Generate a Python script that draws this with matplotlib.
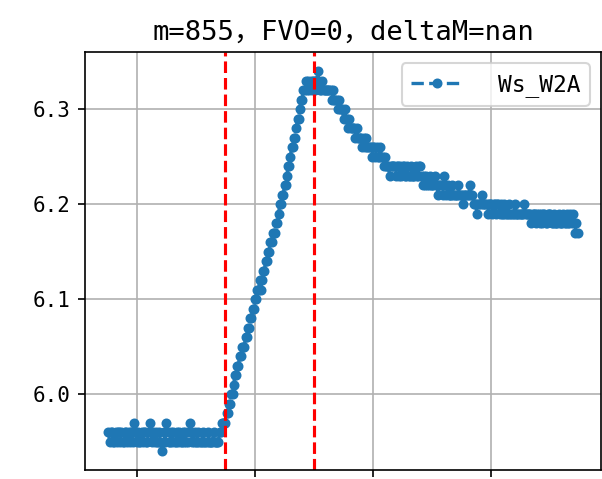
import matplotlib
matplotlib.use("Agg")
import matplotlib.pyplot as plt
import numpy as np

plt.rcParams['font.family'] = ['DejaVu Sans Mono', 'Noto Sans CJK SC']
plt.rcParams['axes.unicode_minus'] = False

title = 'm=855，FVO=0，deltaM=nan'
series_label = 'Ws_W2A'
x_start = 76
event_lines = [175, 250]

flat_values = [
    5.96, 5.95, 5.96, 5.96, 5.95, 5.95, 5.96, 5.95, 5.96, 5.96, 5.95, 5.96, 5.95, 5.95, 5.96, 5.96,
    5.95, 5.96, 5.95, 5.96, 5.96, 5.95, 5.97,
    5.96, 5.95, 5.96, 5.95, 5.95, 5.96, 5.95, 5.96, 5.96, 5.95, 5.95, 5.96, 5.97,
    5.96, 5.95, 5.96, 5.95, 5.96, 5.95, 5.95, 5.96, 5.95, 5.94, 5.95, 5.96, 5.95, 5.97,
    5.96, 5.95, 5.95, 5.96, 5.95, 5.96, 5.95, 5.95, 5.96, 5.95, 5.96, 5.95, 5.95, 5.96, 5.95, 5.96,
    5.95, 5.95, 5.96, 5.97,
    5.96, 5.95, 5.95, 5.96, 5.95, 5.95, 5.96, 5.95, 5.95, 5.95, 5.96, 5.95, 5.95, 5.95, 5.96, 5.95,
    5.95, 5.95, 5.95, 5.96, 5.95, 5.95, 5.95,
    5.95, 5.96, 5.96, 5.97,
]

rise_values = [
    5.97, 5.97, 5.97, 5.98, 5.98, 5.99, 5.99, 6.00, 6.00, 6.01, 6.02, 6.02, 6.03, 6.03, 6.04, 6.04,
    6.05, 6.05, 6.05, 6.06, 6.06, 6.07, 6.07, 6.08, 6.08, 6.09, 6.09, 6.10, 6.10, 6.11, 6.11, 6.12,
    6.11, 6.12, 6.13, 6.13, 6.14, 6.14, 6.15, 6.15, 6.16, 6.16, 6.17, 6.17, 6.17, 6.18, 6.18, 6.19,
    6.20, 6.20, 6.21, 6.21, 6.22, 6.22, 6.23, 6.24, 6.24, 6.25, 6.26, 6.26, 6.27, 6.27, 6.28, 6.29,
    6.29, 6.30, 6.31, 6.31, 6.32, 6.32, 6.33, 6.32, 6.33, 6.32, 6.33, 6.32, 6.33, 6.33, 6.32, 6.33,
]

decline_values = [
    6.34, 6.33,
    6.32, 6.32, 6.33, 6.32, 6.32, 6.32, 6.32, 6.32, 6.32, 6.32, 6.31, 6.32,
    6.31, 6.31, 6.31, 6.30, 6.31, 6.30,
    6.30, 6.30, 6.29, 6.30, 6.29, 6.29, 6.28, 6.29,
    6.28, 6.28, 6.28, 6.28, 6.27, 6.28, 6.27, 6.27,
    6.27, 6.27, 6.26, 6.27, 6.26, 6.27, 6.26, 6.26,
    6.26, 6.26, 6.25, 6.26, 6.26, 6.25, 6.26, 6.25, 6.25, 6.26, 6.25, 6.25,
    6.24, 6.25, 6.24, 6.24, 6.24, 6.23, 6.24, 6.24, 6.24, 6.24, 6.23, 6.24,
    6.24, 6.23, 6.24, 6.23, 6.24, 6.24, 6.23, 6.23, 6.24, 6.23, 6.23, 6.24,
    6.23, 6.23, 6.23, 6.24, 6.23, 6.23, 6.24, 6.24, 6.23, 6.22, 6.23, 6.22,
    6.23, 6.22, 6.22, 6.23, 6.22, 6.22, 6.22, 6.23, 6.22, 6.22, 6.21, 6.22,
    6.22, 6.22, 6.21, 6.23, 6.22, 6.21, 6.22, 6.21, 6.21, 6.21, 6.22, 6.21,
    6.21, 6.21, 6.21, 6.22, 6.21, 6.21, 6.21, 6.20, 6.21, 6.21, 6.21, 6.21,
    6.21, 6.22, 6.21, 6.21, 6.20, 6.20, 6.20, 6.19, 6.20, 6.20, 6.20, 6.21,
    6.20, 6.20, 6.20, 6.20, 6.19, 6.20, 6.20, 6.20, 6.19, 6.20, 6.20, 6.19,
    6.20, 6.20, 6.19, 6.20, 6.19, 6.19, 6.20, 6.19, 6.19, 6.19, 6.20, 6.19,
    6.19, 6.19, 6.19, 6.20, 6.19, 6.19, 6.19, 6.19, 6.19, 6.19, 6.19, 6.20,
    6.19, 6.19, 6.19, 6.19, 6.19, 6.18, 6.19, 6.19, 6.19, 6.18, 6.19, 6.19,
    6.18, 6.19, 6.18, 6.19, 6.19, 6.18, 6.18, 6.19, 6.19, 6.19, 6.18, 6.18,
    6.19, 6.18, 6.18, 6.18, 6.19, 6.18, 6.18, 6.18, 6.19, 6.18, 6.18, 6.19,
    6.18, 6.18, 6.19, 6.18, 6.19, 6.18, 6.17, 6.18, 6.17,
]

y_values = np.array(flat_values + rise_values + decline_values)
x_values = np.arange(x_start, x_start + len(y_values))

fig = plt.figure(figsize=(603 / 150, 479 / 150), dpi=150)
ax = fig.add_axes([85 / 603, 9 / 479, 516 / 603, 418 / 479])

ax.plot(x_values, y_values, 'o--', color='#1f77b4', markersize=3.8, linewidth=1.6, label=series_label)
for xv in event_lines:
    ax.axvline(xv, color='red', linestyle='--', linewidth=1.5)

ax.set_xticks([100, 200, 300, 400])
ax.set_yticks([6.0, 6.1, 6.2, 6.3])
ax.grid(True)
ax.tick_params(labelsize=10)
ax.set_title(title, fontsize=13)
ax.legend(loc='upper right', fontsize=11, handlelength=2.3, handletextpad=1.5)

fig.savefig('out.png', dpi=150)
